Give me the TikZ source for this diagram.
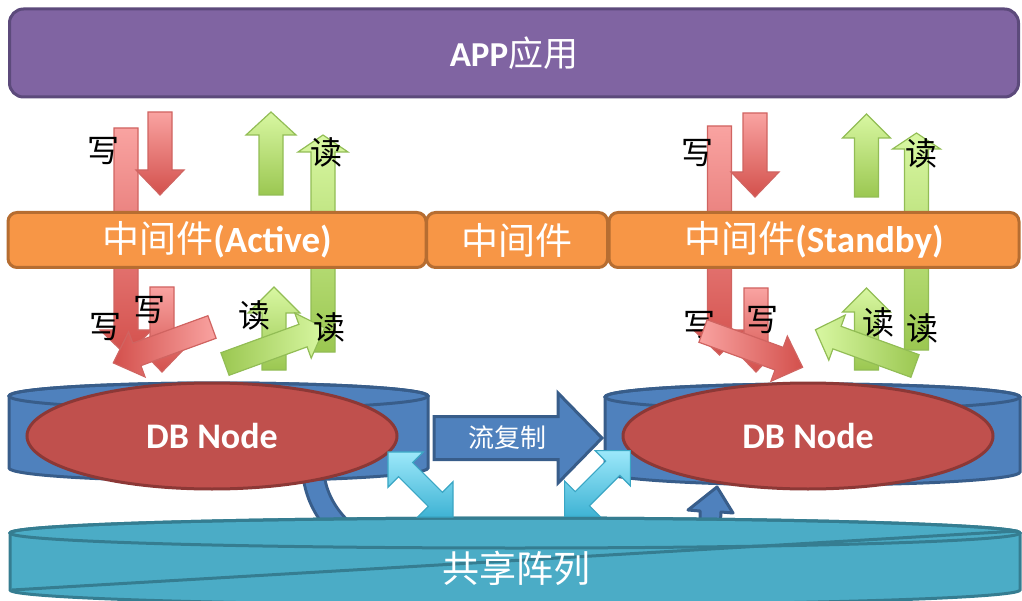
\documentclass[tikz,border=0pt]{standalone}
\usepackage{fontspec}
\setmainfont{Carlito}
\newfontfamily\cjk{Noto Sans CJK SC}
\usetikzlibrary{shapes.geometric}
\definecolor{appfill}{HTML}{8064A2}
\definecolor{appdraw}{HTML}{5C4A7B}
\definecolor{mwfill}{HTML}{F79646}
\definecolor{mwdraw}{HTML}{B66D31}
\definecolor{cylfill}{HTML}{4F81BD}
\definecolor{cyldraw}{HTML}{385D8A}
\definecolor{dbfill}{HTML}{C0504D}
\definecolor{dbdraw}{HTML}{8C3836}
\definecolor{sharefill}{HTML}{4BACC6}
\definecolor{sharedraw}{HTML}{357D91}
\definecolor{redlight}{HTML}{F9A3A1}
\definecolor{reddark}{HTML}{D3504C}
\definecolor{redline}{HTML}{D06461}
\definecolor{greenlight}{HTML}{D8F7A2}
\definecolor{greendark}{HTML}{9BC751}
\definecolor{greenline}{HTML}{92BD55}
\definecolor{cyanlight}{HTML}{9CE8FA}
\definecolor{cyandark}{HTML}{3FB3D4}
\definecolor{cyanline}{HTML}{3AA6C4}

\newcommand\blockarrow[7]{%
  \begin{scope}[shift={#2},rotate=#3]
    \path[#1] (0,{-#5}) -- ({#4-#7},{-#5}) -- ({#4-#7},{-#6}) -- (#4,0)
      -- ({#4-#7},{#6}) -- ({#4-#7},{#5}) -- (0,{#5}) -- cycle;
  \end{scope}}
\newcommand\dblarrow[7]{%
  \begin{scope}[shift={#2},rotate=#3]
    \path[#1] ({-#4},0) -- ({-#4+#7},{-#6}) -- ({-#4+#7},{-#5}) -- ({#4-#7},{-#5})
      -- ({#4-#7},{-#6}) -- (#4,0) -- ({#4-#7},{#6}) -- ({#4-#7},{#5})
      -- ({-#4+#7},{#5}) -- ({-#4+#7},{#6}) -- cycle;
  \end{scope}}

\tikzset{
  redV/.style={draw=redline, line width=1.2pt, top color=redlight, bottom color=reddark},
  greenV/.style={draw=greenline, line width=1.2pt, top color=greenlight, bottom color=greendark},
  redLD/.style={draw=redline, line width=1.2pt, left color=reddark, right color=redlight},
  redRD/.style={draw=redline, line width=1.2pt, left color=redlight, right color=reddark},
  greenLU/.style={draw=greenline, line width=1.2pt, left color=greendark, right color=greenlight},
  greenRU/.style={draw=greenline, line width=1.2pt, left color=greenlight, right color=greendark},
  cyanarrow/.style={draw=cyanline, line width=1.2pt, top color=cyanlight, bottom color=cyandark},
  streamarrow/.style={draw=cyldraw, line width=3pt, fill=cylfill, line join=miter},
  appbox/.style={rectangle, rounded corners=14pt, fill=appfill, draw=appdraw, line width=3pt,
    text=white, font=\fontsize{35}{40}\selectfont, inner sep=0pt},
  mwbox/.style={rectangle, rounded corners=9pt, fill=mwfill, draw=mwdraw, line width=3pt,
    text=white, font=\fontsize{37}{40}\selectfont, minimum height=55pt, inner sep=0pt},
  dbnode/.style={ellipse, fill=dbfill, draw=dbdraw, line width=3pt, text=white,
    font=\bfseries\fontsize{36}{40}\selectfont, minimum width=370pt, minimum height=106pt, inner sep=0pt},
  cyl/.style={fill=cylfill, draw=cyldraw, line width=3pt},
  share/.style={fill=sharefill, draw=sharedraw, line width=3pt},
  lbl/.style={font=\cjk\fontsize{32}{34}\selectfont, inner sep=0pt, text=black},
  wlbl/.style={text=white, inner sep=0pt},
}

\begin{document}
\begin{tikzpicture}[x=1pt,y=-1pt]
\useasboundingbox (0,0) rectangle (1022,601);

% curved arrow below the database nodes
\draw[line width=24pt, draw=cyldraw] (313,470) .. controls (318,540) and (400,580) .. (515,580)
   .. controls (650,580) and (708,565) .. (710,522);
\draw[line width=18pt, draw=cylfill] (313,470) .. controls (318,540) and (400,580) .. (515,580)
   .. controls (650,580) and (708,565) .. (710,522);
\path[draw=cyldraw, line width=3pt, fill=cylfill, line join=round]
  (688,510) -- (717,487) -- (733,513) -- (721,512) -- (720,530) -- (700,530) -- (700,511) -- cycle;

% upper arrows
\blockarrow{redV}{(126,128)}{-90}{227}{12}{26}{25}
\blockarrow{redV}{(160,112)}{-90}{83}{12}{24}{25}
\blockarrow{greenV}{(323,352)}{90}{217}{12}{25}{17}
\blockarrow{greenV}{(271,195)}{90}{83}{12}{25}{23}
\blockarrow{redV}{(719.5,126)}{-90}{229}{12}{26}{25}
\blockarrow{redV}{(755,113)}{-90}{84}{12}{24}{25}
\blockarrow{greenV}{(916.5,350)}{90}{217}{12}{24}{16}
\blockarrow{greenV}{(866.5,197)}{90}{83}{12}{24}{24}

% middleware and application
\node[mwbox, minimum width=418pt] (mwA) at (217,240) {{\cjk 中间件}\textbf{(Active)}};
\node[mwbox, minimum width=181pt] (mwM) at (517,240) {\cjk 中间件};
\node[mwbox, minimum width=410pt] (mwS) at (814,240) {{\cjk 中间件}\textbf{(Standby)}};
\node[appbox, minimum width=1009pt, minimum height=88pt] (app) at (514,53) {\textbf{APP}{\cjk 应用}};

% lower arrows
\blockarrow{redV}{(162,287)}{-90}{85}{12}{24}{25}
\blockarrow{greenV}{(274,370)}{90}{83}{12}{26}{26}
\blockarrow{redV}{(756,288)}{-90}{84}{12}{24}{25}
\blockarrow{greenV}{(866.5,370)}{90}{82}{12}{24}{24}

\node[lbl] (w6) at (699,325) {写};

\blockarrow{redLD}{(212,327)}{-160}{105}{12}{24}{25}
\blockarrow{greenLU}{(225,364)}{20}{106}{12}{24}{23}
\blockarrow{redRD}{(703,331)}{-20}{106}{12}{24}{25}
\blockarrow{greenRU}{(915,366)}{160}{106}{12}{24}{23}

% labels
\node[lbl] (w1) at (103,151) {写};
\node[lbl] (r1) at (326,152) {读};
\node[lbl] (w2) at (105,327) {写};
\node[lbl] (w3) at (149,310) {写};
\node[lbl] (r2) at (254,315) {读};
\node[lbl] (r3) at (329,327) {读};
\node[lbl] (w4) at (697,153) {写};
\node[lbl] (r4) at (921,153) {读};
\node[lbl] (w5) at (762,320) {写};
\node[lbl] (r5) at (878,322) {读};
\node[lbl] (r6) at (922,328) {读};

% database cylinders
\path[cyl] (9,396) -- (9,468) arc[start angle=180, end angle=0, x radius=209.5, y radius=13]
  -- (428,396) arc[start angle=360, end angle=180, x radius=209.5, y radius=13] -- cycle;
\draw[cyldraw, line width=3pt] (218.5,396) ellipse[x radius=209.5, y radius=13];
\path[cyl] (605,397) -- (605,472) arc[start angle=180, end angle=0, x radius=207.5, y radius=13]
  -- (1020,397) arc[start angle=360, end angle=180, x radius=207.5, y radius=13] -- cycle;
\draw[cyldraw, line width=3pt] (812.5,397) ellipse[x radius=207.5, y radius=13];
\node[dbnode] (dbA) at (212,436) {DB Node};
\node[dbnode] (dbS) at (808,436) {DB Node};

% stream replication
\blockarrow{streamarrow}{(434,438)}{0}{168}{21.5}{45}{44}
\node[wlbl, font=\cjk\fontsize{26}{28}\selectfont] (rep) at (507,438) {流复制};

% shared array
\path[share] (10,533) -- (10,590) arc[start angle=180, end angle=0, x radius=505, y radius=15]
  -- (1020,533) arc[start angle=360, end angle=180, x radius=505, y radius=15] -- cycle;
\draw[sharedraw, line width=3pt] (515,533) ellipse[x radius=505, y radius=15];
\draw[sharedraw, line width=3pt] (12,590) -- (1018,531);
\node[wlbl, font=\cjk\fontsize{37}{40}\selectfont] (arr) at (516,568) {共享阵列};

% access arrows
\dblarrow{cyanarrow}{(420.5,484.5)}{-45}{46}{10}{25}{25}
\dblarrow{cyanarrow}{(597.5,483.5)}{45}{46.5}{10}{25}{25}
\end{tikzpicture}
\end{document}
